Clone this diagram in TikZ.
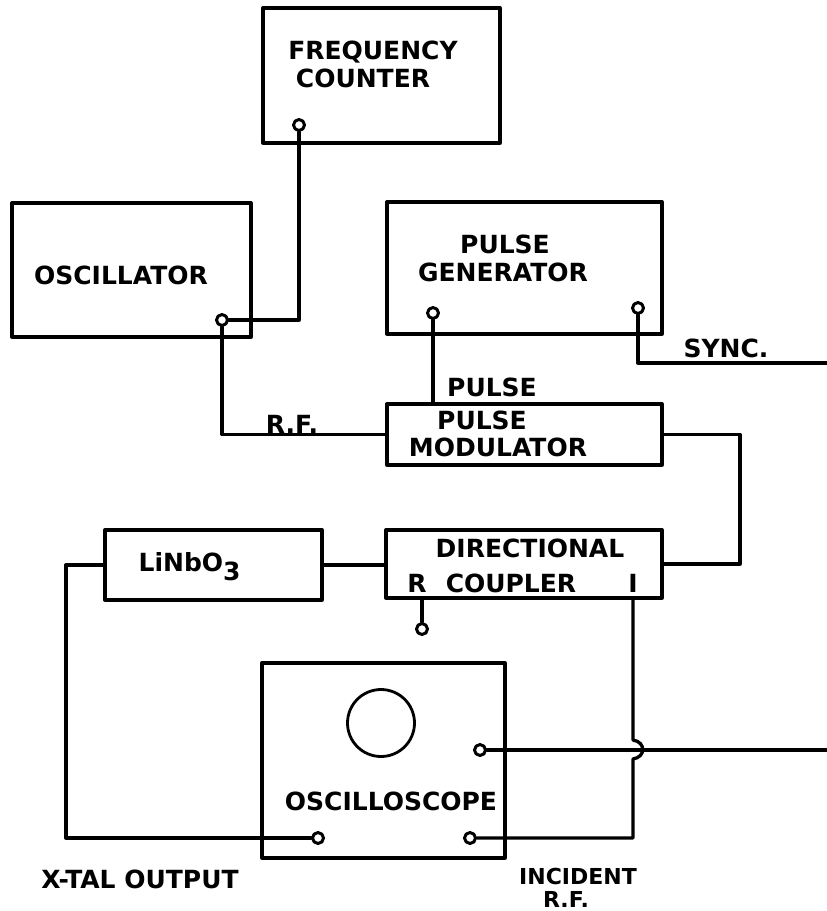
\documentclass[tikz,border=0pt]{standalone}
\usepackage{fontspec}
\setmainfont{DejaVu Sans}
\begin{document}
\begin{tikzpicture}[x=1pt,y=-1pt, line width=3.3pt, line join=round, line cap=round,
  box/.style={draw, rectangle, inner sep=0pt},
  term/.style={draw, circle, fill=white, inner sep=0pt, minimum size=11pt, line width=3pt},
  lbl/.style={font=\fontsize{25}{27}\selectfont\bfseries, inner sep=0pt},
  slbl/.style={font=\fontsize{22}{24}\selectfont\bfseries, inner sep=0pt}]
\useasboundingbox (0,0) rectangle (827,911);
% boxes
\node[box, minimum width=237pt, minimum height=135pt] (fc) at (381.5,75.5) {};
\node[box, minimum width=239pt, minimum height=134pt] (osc) at (131.5,270) {};
\node[box, minimum width=275pt, minimum height=132pt] (pg) at (524.5,268) {};
\node[box, minimum width=275pt, minimum height=61pt] (pm) at (524.5,434.5) {};
\node[box, minimum width=276pt, minimum height=68pt] (dc) at (524,564) {};
\node[box, minimum width=217pt, minimum height=70pt] (lin) at (213.5,565) {};
\node[box, minimum width=243pt, minimum height=195pt] (sc) at (383.5,760.5) {};
\node[draw, circle, inner sep=0pt, minimum size=67pt, line width=2.8pt] (screen) at (381,723) {};
% terminals
\node[term] (tfc) at (299,125) {};
\node[term] (tosc) at (222,320) {};
\node[term] (tpg1) at (433,313) {};
\node[term] (tpg2) at (638,308) {};
\node[term] (tR) at (422,629) {};
\node[term] (tsc) at (480,750) {};
\node[term] (tx) at (318,838) {};
\node[term] (ti) at (470,838) {};
% free ends
\coordinate (syncend) at (827,363);
\coordinate (scend) at (827,750);
\coordinate (rloop) at (740,500);
\coordinate (xc) at (66,838);
\coordinate (iport) at (633,598);
% wires
\draw (tfc) |- (tosc);
\draw (tosc) |- (pm.west);
\draw (tpg1) -- (tpg1 |- pm.north);
\draw (tpg2) |- (syncend);
\draw (pm.east) -| (rloop) |- (dc.east);
\draw (lin.east) -- (lin.east -| dc.west);
\draw (lin.west) -| (xc) -- (tx);
\draw (tR) -- (tR |- dc.south);
\draw (iport) -- ++(0,142) .. controls +(13,2) and +(13,-2) .. ++(0,19) |- (ti);
\draw (tsc) -- (scend);
% labels
\node[lbl] (l1) at (373,52) {FREQUENCY};
\node[lbl] (l2) at (363,78) {COUNTER};
\node[lbl] (l3) at (121,275) {OSCILLATOR};
\node[lbl] (l4) at (505,244) {PULSE};
\node[lbl] (l5) at (503,272) {GENERATOR};
\node[lbl] (l6) at (492,387) {PULSE};
\node[lbl] (l7) at (726,348) {SYNC.};
\node[lbl] (l8) at (292,424) {R.F.};
\node[lbl] (l9) at (482,420) {PULSE};
\node[lbl] (l10) at (498,447) {MODULATOR};
\node[lbl] (l11) at (530,548) {DIRECTIONAL};
\node[lbl] (l12) at (417,583) {R};
\node[lbl] (l13) at (511,583) {COUPLER};
\node[lbl] (l14) at (633,583) {I};
\node[lbl, anchor=west] (l15) at (137,567) {LiNbO\raisebox{-9pt}{3}};
\node[lbl] (l16) at (391,801) {OSCILLOSCOPE};
\node[lbl] (l17) at (140,879) {X-TAL OUTPUT};
\node[slbl] (l18) at (578,876) {INCIDENT};
\node[slbl] (l19) at (566,899) {R.F.};
\end{tikzpicture}
\end{document}
